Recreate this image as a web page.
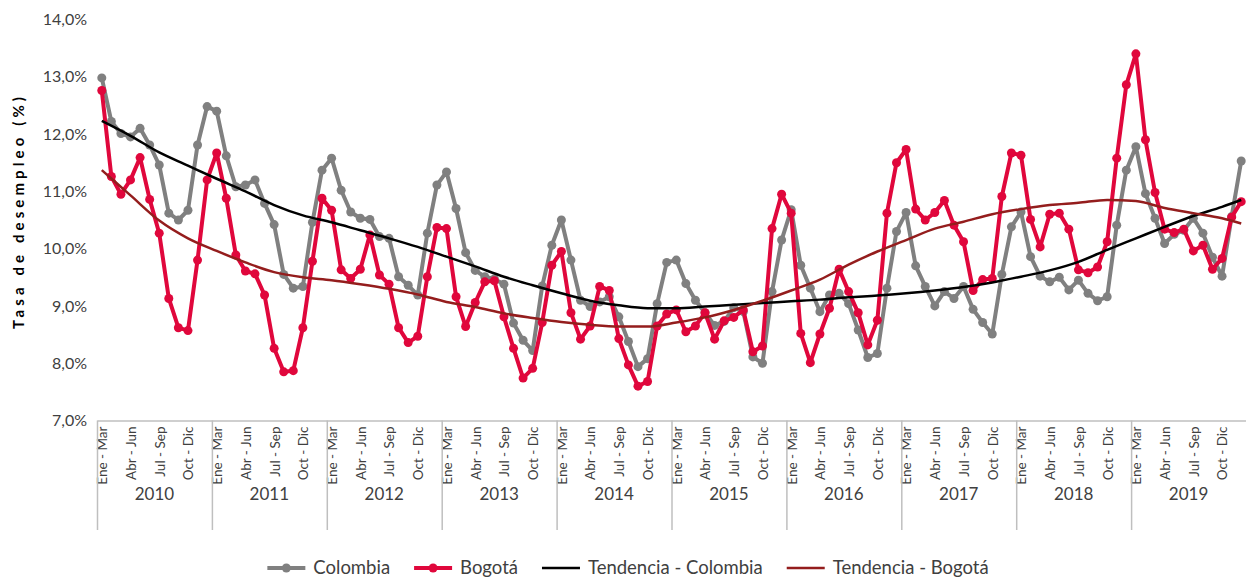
<!DOCTYPE html>
<html>
<head>
<meta charset="utf-8">
<script src="https://cdn.jsdelivr.net/npm/d3@7"></script>
<style>
	body { margin: 0; background: #fff; }
	svg text { font-family: "Lato", "Open Sans", sans-serif; }
</style>
</head>
<body>
<div id="chart"></div>
<script>
const years = [2010, 2011, 2012, 2013, 2014, 2015, 2016, 2017, 2018, 2019];
const periods = ["Ene - Mar", "Feb - Abr", "Mar - May", "Abr - Jun", "May - Jul", "Jun - Ago",
	"Jul - Sep", "Ago - Oct", "Sep - Nov", "Oct - Dic", "Nov - Ene", "Dic - Feb"];

// tasa de desempleo, trimestre movil (%)
const colombia = [
	12.98, 12.22, 12.01, 11.95, 12.10, 11.81, 11.46, 10.62, 10.50, 10.67, 11.81, 12.48,
	12.40, 11.62, 11.08, 11.11, 11.20, 10.79, 10.42, 9.55, 9.31, 9.34, 10.46, 11.37,
	11.58, 11.02, 10.64, 10.53, 10.51, 10.21, 10.18, 9.51, 9.36, 9.19, 10.27, 11.11,
	11.34, 10.70, 9.93, 9.62, 9.51, 9.47, 9.38, 8.70, 8.40, 8.22, 9.35, 10.06,
	10.50, 9.80, 9.10, 8.99, 9.07, 9.16, 8.81, 8.38, 7.94, 8.08, 9.04, 9.76,
	9.80, 9.39, 9.10, 8.88, 8.66, 8.73, 8.97, 8.90, 8.11, 8.00, 9.25, 10.15,
	10.68, 9.71, 9.31, 8.90, 9.19, 9.22, 9.04, 8.58, 8.10, 8.17, 9.31, 10.30,
	10.63, 9.70, 9.34, 9.00, 9.25, 9.13, 9.34, 8.94, 8.71, 8.51, 9.55, 10.38,
	10.64, 9.86, 9.52, 9.42, 9.50, 9.28, 9.45, 9.22, 9.09, 9.16, 10.41, 11.37,
	11.78, 10.96, 10.53, 10.09, 10.25, 10.32, 10.53, 10.27, 9.85, 9.52, 10.56, 11.53
];
const bogota = [
	12.76, 11.26, 10.95, 11.20, 11.59, 10.86, 10.27, 9.13, 8.62, 8.57, 9.80, 11.20,
	11.67, 10.88, 9.89, 9.61, 9.56, 9.19, 8.26, 7.85, 7.87, 8.62, 9.78, 10.88,
	10.67, 9.63, 9.48, 9.64, 10.24, 9.54, 9.38, 8.62, 8.36, 8.47, 9.51, 10.37,
	10.35, 9.16, 8.64, 9.06, 9.42, 9.44, 8.81, 8.26, 7.74, 7.91, 8.71, 9.71,
	9.95, 8.88, 8.42, 8.65, 9.34, 9.27, 8.43, 7.97, 7.60, 7.68, 8.65, 8.86,
	8.93, 8.55, 8.65, 8.88, 8.42, 8.74, 8.80, 8.93, 8.20, 8.30, 10.35, 10.95,
	10.62, 8.52, 8.01, 8.51, 8.96, 9.64, 9.25, 8.88, 8.32, 8.75, 10.62, 11.50,
	11.73, 10.69, 10.50, 10.63, 10.84, 10.41, 10.12, 9.27, 9.46, 9.48, 10.91, 11.67,
	11.63, 10.51, 10.03, 10.60, 10.62, 10.34, 9.63, 9.58, 9.68, 10.12, 11.58, 12.86,
	13.40, 11.90, 10.98, 10.34, 10.28, 10.34, 9.96, 10.06, 9.64, 9.83, 10.55, 10.82
];

// tendencias leidas cada tres meses (y el ultimo trimestre)
const tendenciaColombia = [
	12.23, 11.97, 11.68, 11.45, 11.22, 11.00, 10.76, 10.58, 10.46, 10.32,
	10.18, 10.03, 9.86, 9.69, 9.51, 9.36, 9.22, 9.09, 9.01, 8.96,
	8.96, 8.99, 9.02, 9.05, 9.08, 9.11, 9.15, 9.18, 9.22, 9.27,
	9.33, 9.41, 9.51, 9.62, 9.77, 9.98, 10.18, 10.38, 10.57, 10.73, 10.85
];
const tendenciaBogota = [
	11.37, 10.93, 10.49, 10.18, 9.96, 9.76, 9.59, 9.50, 9.45, 9.38,
	9.30, 9.20, 9.07, 8.98, 8.87, 8.79, 8.72, 8.67, 8.64, 8.64,
	8.71, 8.80, 8.93, 9.09, 9.27, 9.46, 9.72, 9.95, 10.15, 10.35,
	10.47, 10.60, 10.69, 10.76, 10.80, 10.85, 10.83, 10.71, 10.62, 10.53, 10.44
];

const yTicks = [7, 8, 9, 10, 11, 12, 13, 14];
const yTitle = "Tasa de desempleo (%)";
const legendLabels = ["Colombia", "Bogotá", "Tendencia - Colombia", "Tendencia - Bogotá"];

const width = 1246;
const height = 579;
const margin = { top: 19.5, right: 0, bottom: 158.5, left: 97 };

const colors = {
	colombia: "#808080",
	bogota: "#e0073c",
	tendColombia: "#000000",
	tendBogota: "#941d1d",
};

const svg = d3
	.select("#chart")
	.append("svg")
	.attr("width", width)
	.attr("height", height);

const keys = years.flatMap((y) => periods.map((p) => `${p} ${y}`));
const trendKeys = keys.filter((k, i) => i % 3 === 0).concat(keys[keys.length - 1]);

const x = d3
	.scalePoint()
	.domain(keys)
	.range([margin.left, width - margin.right])
	.padding(0.5);

const y = d3
	.scaleLinear()
	.domain([7, 14])
	.range([height - margin.bottom, margin.top]);

const esLocale = d3.formatLocale({ decimal: ",", thousands: ".", grouping: [3], currency: ["$", ""] });
const fmt = esLocale.format(".1f");

// yAxis
const yAxis = d3
	.axisLeft(y)
	.tickValues(yTicks)
	.tickSize(0)
	.tickPadding(10)
	.tickFormat((d) => fmt(d) + "%");

svg.append("g")
	.attr("class", "y-axis")
	.attr("transform", `translate(${margin.left}, 0)`)
	.call(yAxis)
	.call((g) => g.select(".domain").remove())
	.selectAll("text")
	.attr("font-size", "16px")
	.attr("fill", "#404040");

svg.append("text")
	.attr("transform", "translate(24, 213) rotate(-90)")
	.attr("text-anchor", "middle")
	.attr("font-size", "15px")
	.attr("font-weight", "bold")
	.attr("fill", "#000")
	.attr("textLength", 232)
	.attr("lengthAdjust", "spacing")
	.text(yTitle);

// xAxis (periodos)
const xAxis = d3
	.axisBottom(x)
	.tickValues(keys.filter((k, i) => i % 3 === 0))
	.tickSize(0)
	.tickSizeOuter(0)
	.tickFormat((d) => d.slice(0, -5));

const xg = svg.append("g")
	.attr("class", "x-axis")
	.attr("transform", `translate(0, ${height - margin.bottom})`)
	.call(xAxis);

xg.select(".domain")
	.attr("stroke", "#bfbfbf")
	.attr("stroke-width", 1.5);

xg.selectAll("text")
	.attr("transform", "rotate(-90)")
	.attr("text-anchor", "end")
	.attr("x", -6)
	.attr("y", 0)
	.attr("dy", "0.36em")
	.attr("font-size", "13.5px")
	.attr("fill", "#404040");

// años
const yearScale = d3
	.scaleBand()
	.domain(years)
	.range([margin.left, width - margin.right]);

const yearG = svg.append("g").attr("class", "years");
yearG.selectAll("line")
	.data(years)
	.enter()
	.append("line")
	.attr("x1", (d) => yearScale(d) + 0.5)
	.attr("x2", (d) => yearScale(d) + 0.5)
	.attr("y1", height - margin.bottom)
	.attr("y2", 530)
	.attr("stroke", "#bfbfbf")
	.attr("stroke-width", 1.5);

yearG.selectAll("text")
	.data(years)
	.enter()
	.append("text")
	.attr("x", (d) => yearScale(d) + yearScale.bandwidth() / 2)
	.attr("y", 500)
	.attr("text-anchor", "middle")
	.attr("font-size", "17px")
	.attr("fill", "#404040")
	.text((d) => d);

// series
const line = d3
	.line()
	.x((d) => x(d[0]))
	.y((d) => y(d[1]));

const trendLine = d3
	.line()
	.curve(d3.curveMonotoneX)
	.x((d) => x(d[0]))
	.y((d) => y(d[1]));

function drawSeries(values, color, cls) {
	const pts = keys.map((k, i) => [k, values[i]]);
	const g = svg.append("g").attr("class", cls);
	g.append("path")
		.datum(pts)
		.attr("d", line)
		.attr("fill", "none")
		.attr("stroke", color)
		.attr("stroke-width", 4)
		.attr("stroke-linejoin", "round");
	g.selectAll("circle")
		.data(pts)
		.enter()
		.append("circle")
		.attr("cx", (d) => x(d[0]))
		.attr("cy", (d) => y(d[1]))
		.attr("r", 4.5)
		.attr("fill", color);
}

function drawTrend(values, color, cls) {
	svg.append("path")
		.attr("class", cls)
		.datum(trendKeys.map((k, i) => [k, values[i]]))
		.attr("d", trendLine)
		.attr("fill", "none")
		.attr("stroke", color)
		.attr("stroke-width", 2.5);
}

drawSeries(colombia, colors.colombia, "colombia");
drawSeries(bogota, colors.bogota, "bogota");
drawTrend(tendenciaColombia, colors.tendColombia, "tend-colombia");
drawTrend(tendenciaBogota, colors.tendBogota, "tend-bogota");

// legend
const legendColors = [colors.colombia, colors.bogota, colors.tendColombia, colors.tendBogota];
const legend = svg.append("g").attr("class", "legend");
const items = legend.selectAll("g")
	.data(legendLabels)
	.enter()
	.append("g");

items.append("line")
	.attr("x1", 0)
	.attr("x2", 38)
	.attr("y1", 0)
	.attr("y2", 0)
	.attr("stroke", (d, i) => legendColors[i])
	.attr("stroke-width", (d, i) => (i < 2 ? 4 : 2.5));

items.filter((d, i) => i < 2)
	.append("circle")
	.attr("cx", 19)
	.attr("cy", 0)
	.attr("r", 4.5)
	.attr("fill", (d, i) => legendColors[i]);

items.append("text")
	.attr("x", 46)
	.attr("y", 0)
	.attr("dy", "0.35em")
	.attr("font-size", "18.5px")
	.attr("fill", "#404040")
	.text((d) => d);

let offsets = [];
let total = 0;
items.each(function (d, i) {
	const w = 46 + this.querySelector("text").getComputedTextLength();
	offsets.push(total);
	total += w + (i < legendLabels.length - 1 ? 24 : 0);
});
const startX = 628 - total / 2;
items.attr("transform", (d, i) => `translate(${startX + offsets[i]}, 568)`);
</script>
</body>
</html>
